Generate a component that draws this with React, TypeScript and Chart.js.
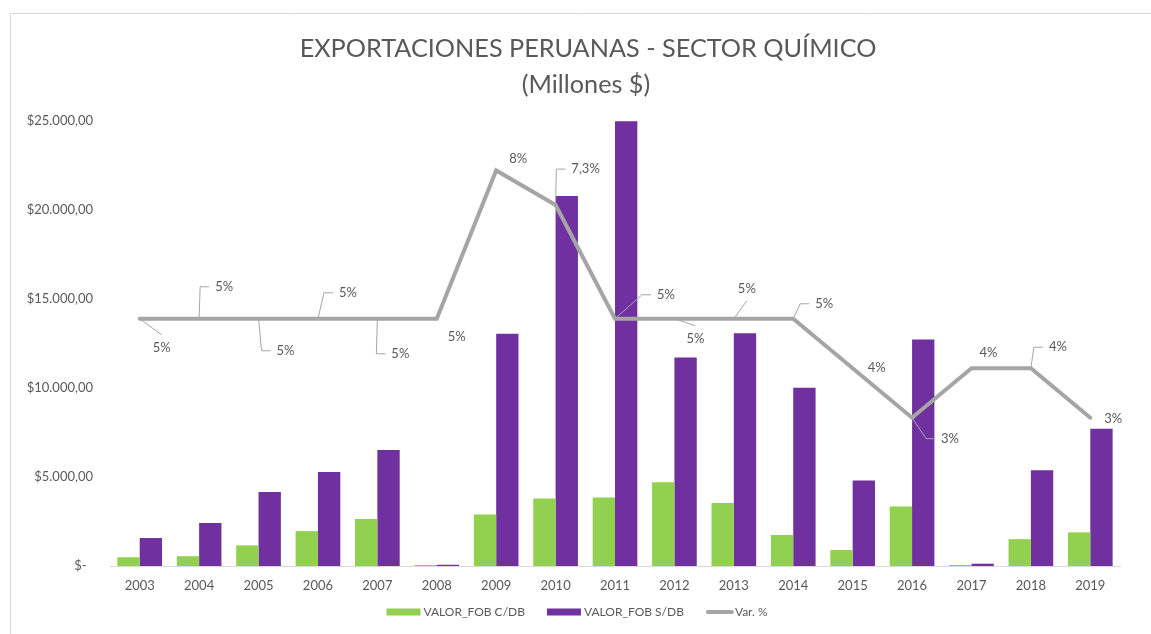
import { useEffect, useRef } from "react";
import { Chart, registerables } from "chart.js";

Chart.register(...registerables);

const categories = ["2003", "2004", "2005", "2006", "2007", "2008", "2009", "2010", "2011", "2012", "2013", "2014", "2015", "2016", "2017", "2018", "2019"];
const fobConDB = [490, 550, 1160, 1960, 2640, 60, 2890, 3790, 3850, 4710, 3540, 1740, 900, 3340, 60, 1510, 1890];
const fobSinDB = [1570, 2420, 4160, 5280, 6520, 70, 13050, 20780, 24980, 11710, 13070, 10020, 4800, 12730, 130, 5380, 7710];
const varPct = [0.05, 0.05, 0.05, 0.05, 0.05, 0.05, 0.08, 0.073, 0.05, 0.05, 0.05, 0.05, 0.04, 0.03, 0.04, 0.04, 0.03];
const seriesNames = ["VALOR_FOB C/DB", "VALOR_FOB S/DB", "Var. %"];
const titleLines = ["EXPORTACIONES PERUANAS - SECTOR QUÍMICO", "(Millones $)"];
const yTickValues = [0, 5000, 10000, 15000, 20000, 25000];

// label placement (layout): offset of label centre from its point, and leader style
const labelPlacement: [number, number, string][] = [
  [22, 29, "diag"], [25, -32, "elbow"], [27, 32, "elbow"], [30, -26, "elbow"], [23, 35, "elbow"],
  [20, 18, ""], [22, -12, ""], [30, -36, "elbow"], [51, -24, "elbow"], [21, 20, "diag"],
  [13, -30, "diag"], [31, -15, "elbow"], [24, 0, ""], [38, 21, "elbow"], [17, -15, ""],
  [27, -21, "elbow"], [23, 1, ""],
];

const GREEN = "#92d050";
const PURPLE = "#7030a0";
const GRAY = "#a5a5a5";
const TEXT = "#595959";
const FONT = "Lato, 'Open Sans', sans-serif";

function fmtPct(v: number): string {
  const p = Math.round(v * 1000) / 10;
  return (Number.isInteger(p) ? String(p) : p.toFixed(1).replace(".", ",")) + "%";
}

function fmtMoney(v: number): string {
  if (v === 0) return "$-\u2002";
  return "$" + v.toLocaleString("de-DE", { minimumFractionDigits: 2, maximumFractionDigits: 2 });
}

const decor = {
  id: "decor",
  beforeDraw(chart: any) {
    const ctx = chart.ctx as CanvasRenderingContext2D;
    ctx.save();
    ctx.fillStyle = "#ffffff";
    ctx.fillRect(0, 0, chart.width, chart.height);
    ctx.strokeStyle = "#d9d9d9";
    ctx.lineWidth = 1;
    ctx.beginPath();
    ctx.moveTo(10.5, chart.height);
    ctx.lineTo(10.5, 13.5);
    ctx.lineTo(chart.width, 13.5);
    ctx.stroke();
    // title
    ctx.fillStyle = TEXT;
    ctx.textAlign = "center";
    ctx.textBaseline = "middle";
    ctx.font = `26px ${FONT}`;
    const w = ctx.measureText(titleLines[0]).width;
    const size = 26 * 577 / w;
    ctx.font = `${size}px ${FONT}`;
    ctx.fillText(titleLines[0], 588, 49);
    ctx.fillText(titleLines[1], 586, 85);
    ctx.restore();
  },
  afterDatasetsDraw(chart: any) {
    const ctx = chart.ctx as CanvasRenderingContext2D;
    const meta = chart.getDatasetMeta(2);
    ctx.save();
    ctx.font = `13px ${FONT}`;
    ctx.textAlign = "center";
    ctx.textBaseline = "middle";
    meta.data.forEach((pt: any, i: number) => {
      const [dx, dy, leader] = labelPlacement[i];
      const text = fmtPct(varPct[i]);
      const tw = ctx.measureText(text).width;
      const cx = pt.x + dx;
      const cy = pt.y + dy;
      ctx.strokeStyle = "#a6a6a6";
      ctx.lineWidth = 1;
      if (leader === "elbow") {
        const left = cx - tw / 2;
        ctx.beginPath();
        ctx.moveTo(pt.x, pt.y);
        ctx.lineTo(left - 15, cy);
        ctx.lineTo(left - 6, cy);
        ctx.stroke();
      } else if (leader === "diag") {
        ctx.beginPath();
        ctx.moveTo(pt.x, pt.y);
        ctx.lineTo(cx, cy + (dy > 0 ? -13 : 12));
        ctx.stroke();
      }
      ctx.fillStyle = TEXT;
      ctx.fillText(text, cx, cy);
    });
    ctx.restore();
  },
  afterDraw(chart: any) {
    const ctx = chart.ctx as CanvasRenderingContext2D;
    ctx.save();
    ctx.font = `12px ${FONT}`;
    ctx.textBaseline = "middle";
    ctx.textAlign = "left";
    const boxW = [34, 34, 26];
    const gapBox = 3;
    const gapItem = 22;
    const widths = seriesNames.map((n, i) => boxW[i] + gapBox + ctx.measureText(n).width);
    const total = widths.reduce((a, b) => a + b, 0) + gapItem * 2;
    let x = 577 - total / 2;
    const y = 612;
    const colors = [GREEN, PURPLE, GRAY];
    seriesNames.forEach((n, i) => {
      if (i < 2) {
        ctx.fillStyle = colors[i];
        ctx.fillRect(x, y - 3.5, boxW[i], 7);
      } else {
        ctx.strokeStyle = GRAY;
        ctx.lineWidth = 4;
        ctx.lineCap = "round";
        ctx.beginPath();
        ctx.moveTo(x + 2, y);
        ctx.lineTo(x + boxW[i], y);
        ctx.stroke();
      }
      ctx.fillStyle = TEXT;
      ctx.fillText(n, x + boxW[i] + gapBox, y);
      x += widths[i] + gapItem;
    });
    ctx.restore();
  },
};

export default function App() {
  const ref = useRef<HTMLCanvasElement>(null);
  useEffect(() => {
    const canvas = ref.current!;
    const chart = new Chart(canvas, {
      type: "bar",
      data: {
        labels: categories,
        datasets: [
          { type: "bar", label: seriesNames[0], data: fobConDB, backgroundColor: GREEN, yAxisID: "y", order: 1 },
          { type: "bar", label: seriesNames[1], data: fobSinDB, backgroundColor: PURPLE, yAxisID: "y", order: 1 },
          {
            type: "line", label: seriesNames[2], data: varPct, borderColor: GRAY, backgroundColor: GRAY,
            borderWidth: 4, pointRadius: 0, yAxisID: "y1", order: 0, tension: 0,
            borderCapStyle: "round", borderJoinStyle: "miter",
          },
        ],
      } as any,
      options: {
        responsive: false,
        animation: false,
        events: [],
        layout: { padding: { top: 121, right: 31, bottom: 28, left: 0 } },
        datasets: { bar: { categoryPercentage: 0.752, barPercentage: 1 } },
        plugins: { legend: { display: false }, tooltip: { enabled: false }, title: { display: false } },
        scales: {
          x: {
            grid: { display: false, drawTicks: false },
            border: { display: true, color: "#d9d9d9", width: 1 },
            ticks: { color: TEXT, font: { family: FONT, size: 13 }, padding: 12, maxRotation: 0, autoSkip: false },
            afterFit: (s: any) => { s.height = 40; },
          },
          y: {
            min: 0,
            max: 25000,
            afterBuildTicks: (s: any) => { s.ticks = yTickValues.map((v) => ({ value: v })); },
            ticks: { color: TEXT, font: { family: FONT, size: 13 }, padding: 17, callback: (v: any) => fmtMoney(Number(v)) },
            grid: { display: false, drawTicks: false },
            border: { display: false },
            afterFit: (s: any) => { s.width = 110; },
          },
          y1: { display: false, min: 0, max: 0.09, position: "right" },
        },
      } as any,
      plugins: [decor],
    });
    return () => chart.destroy();
  }, []);
  return (
    <div style={{ position: "absolute", left: 0, top: 0, width: 1151, height: 634 }}>
      <canvas ref={ref} width={1151} height={634} style={{ display: "block", width: 1151, height: 634 }} />
    </div>
  );
}
